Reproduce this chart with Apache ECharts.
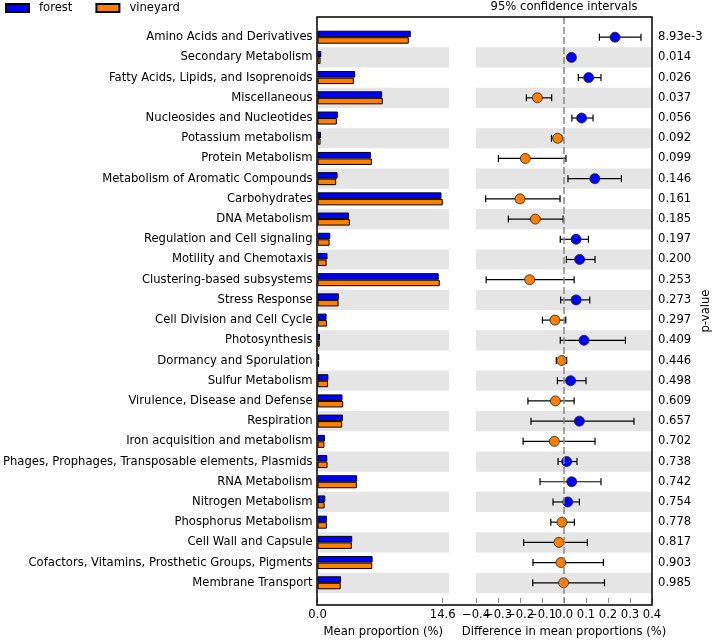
<!DOCTYPE html>
<html>
<head>
<meta charset="utf-8">
<script src="https://cdn.jsdelivr.net/npm/echarts@6/dist/echarts.min.js"></script>
<style>html,body{margin:0;padding:0;background:#fff}#c{width:721px;height:643px}</style>
</head>
<body>
<div id="c"></div>
<script>
const categories = [
  'Amino Acids and Derivatives','Secondary Metabolism','Fatty Acids, Lipids, and Isoprenoids','Miscellaneous',
  'Nucleosides and Nucleotides','Potassium metabolism','Protein Metabolism','Metabolism of Aromatic Compounds',
  'Carbohydrates','DNA Metabolism','Regulation and Cell signaling','Motility and Chemotaxis',
  'Clustering-based subsystems','Stress Response','Cell Division and Cell Cycle','Photosynthesis',
  'Dormancy and Sporulation','Sulfur Metabolism','Virulence, Disease and Defense','Respiration',
  'Iron acquisition and metabolism','Phages, Prophages, Transposable elements, Plasmids','RNA Metabolism','Nitrogen Metabolism',
  'Phosphorus Metabolism','Cell Wall and Capsule','Cofactors, Vitamins, Prosthetic Groups, Pigments','Membrane Transport'
];
const forest = [10.87,0.43,4.39,7.53,2.37,0.39,6.21,2.33,14.45,3.65,1.48,1.16,14.13,2.49,
  1.05,0.28,0.20,1.26,2.91,2.95,0.86,1.13,4.62,0.90,1.09,4.04,6.42,2.74];
const vineyard = [10.64,0.35,4.23,7.61,2.25,0.35,6.33,2.17,14.60,3.77,1.40,1.05,14.25,2.45,
  1.09,0.25,0.18,1.22,2.99,2.87,0.80,1.16,4.58,0.82,1.09,4.00,6.38,2.70];
const diff = [0.232,0.034,0.112,-0.121,0.080,-0.029,-0.176,0.140,-0.200,-0.130,0.055,0.071,-0.156,0.055,
  -0.041,0.091,-0.010,0.030,-0.039,0.070,-0.044,0.012,0.035,0.017,-0.009,-0.023,-0.014,-0.002];
const ciLow = [0.161,0.025,0.065,-0.171,0.036,-0.057,-0.298,0.018,-0.356,-0.253,-0.017,0.011,-0.354,-0.015,
  -0.098,-0.017,-0.035,-0.030,-0.164,-0.150,-0.186,-0.027,-0.109,-0.050,-0.060,-0.183,-0.141,-0.142];
const ciHigh = [0.350,0.043,0.168,-0.056,0.132,-0.011,0.009,0.261,-0.018,-0.004,0.111,0.141,0.046,0.117,
  0.008,0.279,0.012,0.100,0.046,0.318,0.141,0.059,0.168,0.070,0.047,0.106,0.179,0.184];
const pValues = ['8.93e-3','0.014','0.026','0.037','0.056','0.092','0.099','0.146','0.161','0.185','0.197','0.200',
  '0.253','0.273','0.297','0.409','0.446','0.498','0.609','0.657','0.702','0.738','0.742','0.754','0.778','0.817','0.903','0.985'];
const barTicks = [0, 14.6];
const diffRange = [-0.4, 0.4];
const diffTicks = [-0.4, -0.3, -0.2, -0.1, 0.0, 0.1, 0.2, 0.3, 0.4];

const BLUE = '#0000FF', ORANGE = '#FF7F00';
const FONT = 'DejaVu Sans';
const FS = 11.6;

const yCats = ['\u200b'].concat(categories, ['\u200b\u200b']);
const pad = a => ['-'].concat(a, ['-']);
const barMax = barTicks[1] * 1.05;

const bandData0 = [], bandData1 = [];
categories.forEach((c, i) => {
  if (i % 2 === 1) {
    bandData0.push([i + 1, 0, barMax]);
    bandData1.push([i + 1, diffRange[0], diffRange[1]]);
  }
});
function bandRender(params, api) {
  const idx = api.value(0);
  const p0 = api.coord([api.value(1), idx]);
  const p1 = api.coord([api.value(2), idx]);
  const h = api.size([0, 1])[1];
  return {type: 'rect', shape: {x: p0[0], y: p0[1] - h / 2, width: p1[0] - p0[0], height: h},
    style: {fill: '#e5e5e5'}};
}
const errData = categories.map((c, i) => [i + 1, ciLow[i], ciHigh[i]]);
function errRender(params, api) {
  const idx = api.value(0);
  const a = api.coord([api.value(1), idx]);
  const b = api.coord([api.value(2), idx]);
  const cap = 3.5;
  const st = {stroke: '#000', lineWidth: 1.2};
  return {type: 'group', children: [
    {type: 'line', shape: {x1: a[0], y1: a[1], x2: b[0], y2: b[1]}, style: st},
    {type: 'line', shape: {x1: a[0], y1: a[1] - cap, x2: a[0], y2: a[1] + cap}, style: st},
    {type: 'line', shape: {x1: b[0], y1: b[1] - cap, x2: b[0], y2: b[1] + cap}, style: st}
  ]};
}
const dotData = categories.map((c, i) => ({value: [diff[i], i + 1],
  itemStyle: {color: diff[i] > 0 ? BLUE : ORANGE}}));

const fmtDiff = v => Math.abs(v) < 1e-9 ? '0.0' : (v < 0 ? '\u2212' : '') + Math.abs(v).toFixed(1);
const evenTicks = diffTicks.filter((t, i) => i % 2 === 0);
const oddTicks = diffTicks.filter((t, i) => i % 2 === 1);

const chart = echarts.init(document.getElementById('c'), null, {renderer: 'canvas'});
chart.setOption({
  animation: false,
  textStyle: {fontFamily: FONT},
  legend: {
    left: 5, top: 2, padding: 0, itemWidth: 23, itemHeight: 8, itemGap: 23,
    icon: 'rect',
    data: ['forest', 'vineyard'],
    textStyle: {fontFamily: FONT, fontSize: FS, color: '#000', padding: [0, 0, 0, 5]}
  },
  grid: [
    {left: 317, top: 17, width: 132, height: 588},
    {left: 476, top: 17, width: 176, height: 588}
  ],
  xAxis: [
    {type: 'value', gridIndex: 0, min: 0, max: barMax, interval: barTicks[1], position: 'bottom',
      axisLine: {show: false}, splitLine: {show: false},
      axisTick: {show: true, inside: true, length: 5, lineStyle: {color: '#888'}},
      axisLabel: {margin: 6, fontSize: FS, color: '#000', fontFamily: FONT, showMaxLabel: false,
        formatter: v => v.toFixed(1)},
      name: 'Mean proportion (%)', nameLocation: 'middle', nameGap: 23,
      nameTextStyle: {fontSize: FS, color: '#000', fontFamily: FONT}},
    {type: 'value', gridIndex: 1, min: diffRange[0], max: diffRange[1], position: 'bottom',
      axisLine: {show: false}, splitLine: {show: false},
      axisTick: {show: true, inside: true, length: 5, lineStyle: {color: '#888'}, customValues: diffTicks},
      axisLabel: {margin: 6, fontSize: FS, color: '#000', fontFamily: FONT, formatter: fmtDiff,
        customValues: evenTicks, showMinLabel: true, showMaxLabel: true},
      name: 'Difference in mean proportions (%)', nameLocation: 'middle', nameGap: 23,
      nameTextStyle: {fontSize: FS, color: '#000', fontFamily: FONT}},
    {type: 'value', gridIndex: 1, min: diffRange[0], max: diffRange[1], position: 'bottom', offset: 0,
      axisLine: {show: false}, splitLine: {show: false}, axisTick: {show: false},
      axisLabel: {margin: 6, fontSize: FS, color: '#000', fontFamily: FONT, formatter: fmtDiff,
        customValues: oddTicks, showMinLabel: true, showMaxLabel: true}}
  ],
  yAxis: [
    {type: 'category', gridIndex: 0, data: yCats, inverse: true, boundaryGap: false,
      axisLine: {show: false}, axisTick: {show: false}, splitLine: {show: false},
      axisLabel: {interval: 0, margin: 5, fontSize: FS, color: '#000', fontFamily: FONT}},
    {type: 'category', gridIndex: 1, data: yCats, inverse: true, boundaryGap: false, position: 'right',
      axisLine: {show: false}, axisTick: {show: false}, splitLine: {show: false},
      axisLabel: {interval: 0, margin: 6, fontSize: FS, color: '#000', fontFamily: FONT,
        formatter: (v, i) => (i >= 1 && i <= pValues.length) ? pValues[i - 1] : ''}}
  ],
  series: [
    {type: 'custom', xAxisIndex: 0, yAxisIndex: 0, renderItem: bandRender, data: bandData0,
      encode: {x: [1, 2], y: 0}, z: 0, silent: true},
    {type: 'custom', xAxisIndex: 1, yAxisIndex: 1, renderItem: bandRender, data: bandData1,
      encode: {x: [1, 2], y: 0}, z: 0, silent: true},
    {name: 'forest', type: 'bar', xAxisIndex: 0, yAxisIndex: 0, data: pad(forest),
      barWidth: 6.5, barGap: '0%', z: 3,
      itemStyle: {color: BLUE, borderColor: '#000', borderWidth: 1}},
    {name: 'vineyard', type: 'bar', xAxisIndex: 0, yAxisIndex: 0, data: pad(vineyard),
      barWidth: 6.5, barGap: '0%', z: 3,
      itemStyle: {color: ORANGE, borderColor: '#000', borderWidth: 1}},
    {type: 'custom', xAxisIndex: 1, yAxisIndex: 1, renderItem: errRender, data: errData,
      encode: {x: [1, 2], y: 0}, z: 3, silent: true},
    {type: 'scatter', xAxisIndex: 1, yAxisIndex: 1, data: dotData, symbolSize: 10, z: 4,
      itemStyle: {borderColor: '#222', borderWidth: 0.8, opacity: 1},
      markLine: {silent: true, symbol: 'none', label: {show: false}, animation: false,
        lineStyle: {color: '#888', type: [7, 3], width: 1.5},
        data: [{xAxis: 0}]}}
  ],
  graphic: [
    {type: 'rect', shape: {x: 317, y: 17, width: 335, height: 588}, z: 100,
      style: {fill: 'none', stroke: '#000', lineWidth: 1.5}},
    {type: 'text', x: 564, y: 7, z: 100,
      style: {text: '95% confidence intervals', font: FS + 'px "DejaVu Sans"', fill: '#000',
        textAlign: 'center', textVerticalAlign: 'middle'}},
    {type: 'text', x: 706, y: 311, rotation: Math.PI / 2, z: 100,
      style: {text: 'p-value', font: FS + 'px "DejaVu Sans"', fill: '#000',
        textAlign: 'center', textVerticalAlign: 'middle'}}
  ]
});
</script>
</body>
</html>
